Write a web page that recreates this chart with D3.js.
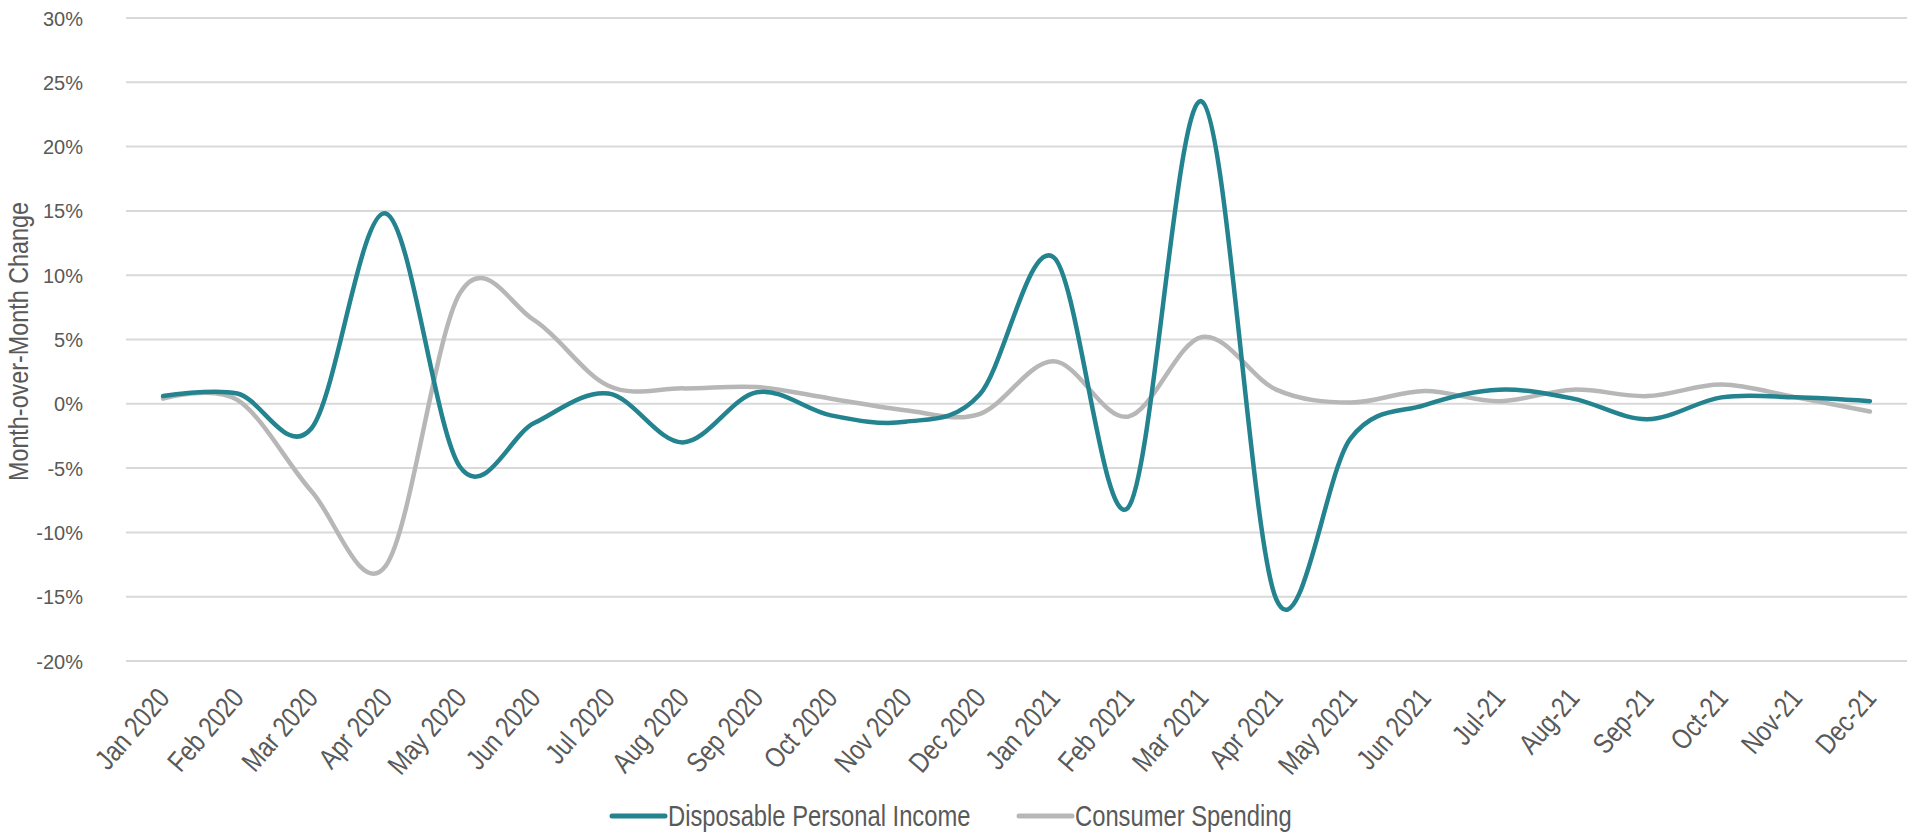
<!DOCTYPE html>
<html>
<head>
<meta charset="utf-8">
<script src="https://cdn.jsdelivr.net/npm/d3@7"></script>
<style>
  html, body { margin: 0; padding: 0; background: #ffffff; }
  svg { display: block; }
  text { font-family: "Liberation Sans", Arial, sans-serif; }
</style>
</head>
<body>
<svg id="chart" width="1909" height="836"></svg>
<script>
// Monthly categories, Jan 2020 – Dec 2021
const months = [
  "Jan 2020", "Feb 2020", "Mar 2020", "Apr 2020", "May 2020", "Jun 2020",
  "Jul 2020", "Aug 2020", "Sep 2020", "Oct 2020", "Nov 2020", "Dec 2020",
  "Jan 2021", "Feb 2021", "Mar 2021", "Apr 2021", "May 2021", "Jun 2021",
  "Jul-21", "Aug-21", "Sep-21", "Oct-21", "Nov-21", "Dec-21"
];

// Month-over-month change, in percent
const incomeChange = [
  0.6, 0.8, -1.9, 14.8, -4.9, -1.5,
  0.8, -3.0, 0.9, -0.9, -1.4, 0.7,
  11.4, -8.1, 23.5, -15.2, -2.7, -0.1,
  1.1, 0.4, -1.2, 0.5, 0.5, 0.2
];
const spendingChange = [
  0.4, 0.3, -6.8, -12.6, 8.6, 6.5,
  1.4, 1.2, 1.3, 0.4, -0.5, -0.8,
  3.3, -1.0, 5.2, 1.1, 0.1, 1.0,
  0.2, 1.1, 0.6, 1.5, 0.5, -0.6
];

const yTicks = [-20, -15, -10, -5, 0, 5, 10, 15, 20, 25, 30];

const seriesNames = ["Disposable Personal Income", "Consumer Spending"];
const seriesColors = ["#23838f", "#b7b7b7"];

// Horizontal squeeze that gives the narrow typeface look
const NARROW = 0.82;
const textColor = "#595959";

const svg = d3.select("#chart");
const plot = { left: 126, right: 1907, top: 18, bottom: 661 };

const x = d3.scaleBand()
  .domain(months)
  .range([plot.left, plot.right]);

const y = d3.scaleLinear()
  .domain([-20, 30])
  .range([plot.bottom, plot.top]);

// Horizontal gridlines
svg.append("g")
  .selectAll("line")
  .data(yTicks)
  .join("line")
  .attr("x1", plot.left)
  .attr("x2", plot.right)
  .attr("y1", d => y(d))
  .attr("y2", d => y(d))
  .attr("stroke", "#d9d9d9")
  .attr("stroke-width", 2);

// Y axis labels
const yAxis = svg.append("g")
  .attr("transform", `translate(${plot.left - 43},0)`)
  .call(d3.axisLeft(y).tickValues(yTicks).tickSize(0).tickPadding(0).tickFormat(d => d + "%"));
yAxis.select(".domain").remove();
yAxis.selectAll("text")
  .attr("fill", textColor)
  .attr("font-family", "'Liberation Sans', Arial, sans-serif")
  .attr("font-size", 20)
  .attr("dy", "0.35em");

// Y axis title
svg.append("text")
  .attr("transform", `translate(28,${(plot.top + plot.bottom) / 2 + 2}) rotate(-90) scale(${NARROW},1)`)
  .attr("text-anchor", "middle")
  .attr("fill", textColor)
  .attr("font-size", 28.5)
  .text("Month-over-Month Change");

// X axis labels, rotated
const xAxis = svg.append("g")
  .attr("transform", `translate(0,${plot.bottom})`)
  .call(d3.axisBottom(x).tickSize(0).tickPadding(0));
xAxis.select(".domain").remove();
xAxis.selectAll("text")
  .attr("fill", textColor)
  .attr("font-size", 28.5)
  .attr("text-anchor", "end")
  .attr("dy", null)
  .attr("y", 0)
  .attr("transform", `translate(8,38) rotate(-49) scale(${NARROW},1)`);

// Series lines
const line = d3.line()
  .x((d, i) => x(months[i]) + x.bandwidth() / 2)
  .y(d => y(d))
  .curve(d3.curveCardinal.tension(0));

const series = [incomeChange, spendingChange];
// Spending first so income sits on top
[1, 0].forEach(k => {
  svg.append("path")
    .datum(series[k])
    .attr("d", line)
    .attr("fill", "none")
    .attr("stroke", seriesColors[k])
    .attr("stroke-width", 4.5)
    .attr("stroke-linecap", "round")
    .attr("stroke-linejoin", "round");
});

// Legend
const legendItems = [
  { name: seriesNames[0], color: seriesColors[0], x: 612 },
  { name: seriesNames[1], color: seriesColors[1], x: 1019 }
];
const legend = svg.append("g").attr("transform", "translate(0,816)");
legend.selectAll("line")
  .data(legendItems)
  .join("line")
  .attr("x1", d => d.x)
  .attr("x2", d => d.x + 53)
  .attr("y1", 0)
  .attr("y2", 0)
  .attr("stroke", d => d.color)
  .attr("stroke-width", 5)
  .attr("stroke-linecap", "round");
legend.selectAll("text")
  .data(legendItems)
  .join("text")
  .attr("transform", d => `translate(${d.x + 56},0) scale(${NARROW},1)`)
  .attr("dy", "0.35em")
  .attr("fill", textColor)
  .attr("font-size", 29)
  .text(d => d.name);
</script>
</body>
</html>
